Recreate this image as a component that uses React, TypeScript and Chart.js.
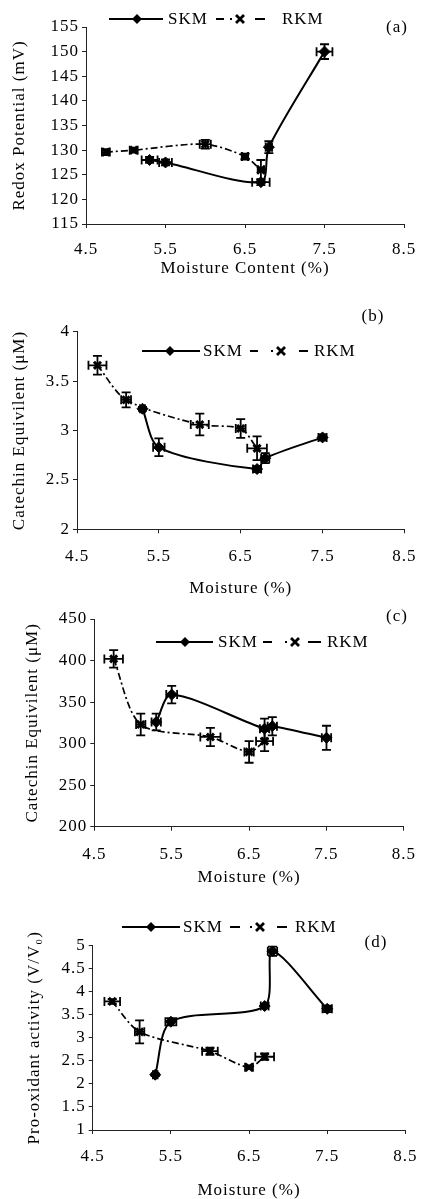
import React, { useEffect, useRef } from 'react';
import { Chart, registerables } from 'chart.js';

Chart.register(...registerables);

// ---------------- data ----------------
const X_TICKS = [4.5, 5.5, 6.5, 7.5, 8.5];
const SKM_MOISTURE = [5.3, 5.5, 6.7, 6.8, 7.5];
const RKM_MOISTURE = [4.75, 5.1, 6.0, 6.5, 6.7];

// (a) Redox potential (mV)
const REDOX_TICKS = [115, 120, 125, 130, 135, 140, 145, 150, 155];
const REDOX_SKM = [128, 127.5, 123.5, 130.6, 150];
const REDOX_SKM_XERR = [0.1, 0.08, 0.11, 0.04, 0.1];
const REDOX_SKM_YERR = [0.6, 0.6, 0.6, 1.2, 1.5];
const REDOX_RKM = [129.6, 130, 131.2, 128.7, 126];
const REDOX_RKM_XERR = [0.05, 0.05, 0.07, 0.04, 0.04];
const REDOX_RKM_YERR = [0.6, 0.5, 0.9, 0.6, 2.0];

// (b) Catechin equivalent (uM)
const CATB_TICKS = [2, 2.5, 3, 3.5, 4];
const CATB_SKM = [3.22, 2.83, 2.61, 2.72, 2.93];
const CATB_SKM_XERR = [0.03, 0.07, 0.05, 0.05, 0.05];
const CATB_SKM_YERR = [0.02, 0.09, 0.03, 0.05, 0.03];
const CATB_RKM = [3.66, 3.31, 3.06, 3.02, 2.82];
const CATB_RKM_XERR = [0.11, 0.06, 0.11, 0.06, 0.12];
const CATB_RKM_YERR = [0.095, 0.075, 0.11, 0.095, 0.12];

// (c) Catechin equivalent (uM)
const CATC_TICKS = [200, 250, 300, 350, 400, 450];
const CATC_SKM = [326, 359, 318, 321, 307];
const CATC_SKM_XERR = [0.06, 0.07, 0.06, 0.06, 0.06];
const CATC_SKM_YERR = [10, 10.5, 12, 11, 14.5];
const CATC_RKM = [402, 323, 308, 290, 303];
const CATC_RKM_XERR = [0.12, 0.06, 0.13, 0.06, 0.11];
const CATC_RKM_YERR = [10.5, 13, 11, 13, 12];

// (d) Pro-oxidant activity (V/V0)
const PRO_TICKS = [1, 1.5, 2, 2.5, 3, 3.5, 4, 4.5, 5];
const PRO_SKM = [2.2, 3.35, 3.69, 4.88, 3.63];
const PRO_SKM_XERR = [0.03, 0.07, 0.05, 0.06, 0.06];
const PRO_SKM_YERR = [0.03, 0.08, 0.04, 0.1, 0.07];
const PRO_RKM = [3.79, 3.13, 2.71, 2.36, 2.59];
const PRO_RKM_XERR = [0.1, 0.06, 0.1, 0.05, 0.12];
const PRO_RKM_YERR = [0.05, 0.25, 0.08, 0.04, 0.07];

const SKM_LABEL = 'SKM';
const RKM_LABEL = 'RKM';

// ---------------- styling / layout ----------------
const FONT = '"Liberation Serif", "Times New Roman", serif';
const FONT_SIZE = 17;
const LETTER_SPACING = '1px';
const INK = '#000';
const AXIS = '#222';
const RKM_DASH = [7, 3, 2, 3];
const TENSION = 0.28;

type Panel = {
  tag: string;
  top: number;
  h: number;
  area: { left: number; top: number; right: number; bottom: number };
  yTicks: number[];
  yTitle: string;
  xTitle: string;
  skm: number[]; skmX: number[]; skmY: number[];
  rkm: number[]; rkmX: number[]; rkmY: number[];
  yTitlePad: number;
  xTickPad: number;
  xTitlePad: number;
  legend: { y: number; line: [number, number]; diamond: number; skmX: number; dash1: [number, number]; cross: number; dash2: [number, number]; rkmX: number };
  tagPos: { x: number; y: number };
};

const PANELS: Panel[] = [
  {
    tag: '(a)', top: 0, h: 290,
    area: { left: 86, top: 27, right: 404, bottom: 224 },
    yTicks: REDOX_TICKS, yTitle: 'Redox Potential (mV)', xTitle: 'Moisture Content (%)',
    skm: REDOX_SKM, skmX: REDOX_SKM_XERR, skmY: REDOX_SKM_YERR,
    rkm: REDOX_RKM, rkmX: REDOX_RKM_XERR, rkmY: REDOX_RKM_YERR,
    yTitlePad: 11, xTickPad: 11, xTitlePad: 12.5,
    legend: { y: 19, line: [109, 163], diamond: 137, skmX: 168, dash1: [216, 224], cross: 240, dash2: [255, 265], rkmX: 282 },
    tagPos: { x: 397, y: 28 },
  },
  {
    tag: '(b)', top: 290, h: 310,
    area: { left: 77, top: 41.7, right: 409, bottom: 239.3 },
    yTicks: CATB_TICKS, yTitle: 'Catechin Equivilent (\u03bcM)', xTitle: 'Moisture (%)',
    skm: CATB_SKM, skmX: CATB_SKM_XERR, skmY: CATB_SKM_YERR,
    rkm: CATB_RKM, rkmX: CATB_RKM_XERR, rkmY: CATB_RKM_YERR,
    yTitlePad: 11, xTickPad: 13.5, xTitlePad: 2.5,
    legend: { y: 61, line: [142, 200], diamond: 170, skmX: 203, dash1: [250, 258], cross: 281, dash2: [299, 308], rkmX: 314 },
    tagPos: { x: 373, y: 27 },
  },
  {
    tag: '(c)', top: 590, h: 300,
    area: { left: 94.3, top: 29, right: 416.7, bottom: 236.7 },
    yTicks: CATC_TICKS, yTitle: 'Catechin Equivilent (\u03bcM)', xTitle: 'Moisture (%)',
    skm: CATC_SKM, skmX: CATC_SKM_XERR, skmY: CATC_SKM_YERR,
    rkm: CATC_RKM, rkmX: CATC_RKM_XERR, rkmY: CATC_RKM_YERR,
    yTitlePad: 24.5, xTickPad: 14, xTitlePad: 3.5,
    legend: { y: 52, line: [156, 213], diamond: 185, skmX: 218, dash1: [263, 272], cross: 295, dash2: [308, 321], rkmX: 327 },
    tagPos: { x: 397, y: 27 },
  },
  {
    tag: '(d)', top: 880, h: 319,
    area: { left: 92.7, top: 65.7, right: 405.7, bottom: 250 },
    yTicks: PRO_TICKS, yTitle: 'Pro-oxidant activity (V/V\u2080)', xTitle: 'Moisture (%)',
    skm: PRO_SKM, skmX: PRO_SKM_XERR, skmY: PRO_SKM_YERR,
    rkm: PRO_RKM, rkmX: PRO_RKM_XERR, rkmY: PRO_RKM_YERR,
    yTitlePad: 26, xTickPad: 12.5, xTitlePad: 0,
    legend: { y: 47, line: [122, 180], diamond: 151, skmX: 183, dash1: [230, 240], cross: 260, dash2: [277, 287], rkmX: 295 },
    tagPos: { x: 376, y: 63 },
  },
];

// ---------------- plugins ----------------
const spacingPlugin = {
  id: 'letterSpacing',
  beforeLayout(chart: any) { (chart.ctx as any).letterSpacing = LETTER_SPACING; },
  beforeDraw(chart: any) { (chart.ctx as any).letterSpacing = LETTER_SPACING; },
};

const errorBarPlugin = {
  id: 'errorBars',
  afterDatasetsDraw(chart: any) {
    const { ctx } = chart;
    const xs = chart.scales.x;
    const ys = chart.scales.y;
    const cap = 4.5;
    ctx.save();
    ctx.strokeStyle = INK;
    ctx.lineWidth = 1.8;
    ctx.setLineDash([]);
    chart.data.datasets.forEach((ds: any) => {
      const eb = ds.errorBars;
      if (!eb) return;
      ds.data.forEach((p: any, j: number) => {
        const px = xs.getPixelForValue(p.x);
        const py = ys.getPixelForValue(p.y);
        const x1 = xs.getPixelForValue(p.x - eb.x[j]);
        const x2 = xs.getPixelForValue(p.x + eb.x[j]);
        const y1 = ys.getPixelForValue(p.y - eb.y[j]);
        const y2 = ys.getPixelForValue(p.y + eb.y[j]);
        ctx.beginPath();
        ctx.moveTo(x1, py); ctx.lineTo(x2, py);
        ctx.moveTo(x1, py - cap); ctx.lineTo(x1, py + cap);
        ctx.moveTo(x2, py - cap); ctx.lineTo(x2, py + cap);
        ctx.moveTo(px, y1); ctx.lineTo(px, y2);
        ctx.moveTo(px - cap, y1); ctx.lineTo(px + cap, y1);
        ctx.moveTo(px - cap, y2); ctx.lineTo(px + cap, y2);
        ctx.stroke();
      });
    });
    ctx.restore();
  },
};

function drawCross(ctx: CanvasRenderingContext2D, x: number, y: number, r: number) {
  ctx.beginPath();
  ctx.moveTo(x - r, y - r); ctx.lineTo(x + r, y + r);
  ctx.moveTo(x - r, y + r); ctx.lineTo(x + r, y - r);
  ctx.stroke();
}

function makeDecorPlugin(panel: Panel) {
  return {
    id: 'decor',
    afterDraw(chart: any) {
      const ctx: CanvasRenderingContext2D = chart.ctx;
      const L = panel.legend;
      ctx.save();
      (ctx as any).letterSpacing = LETTER_SPACING;
      ctx.strokeStyle = INK;
      ctx.fillStyle = INK;
      ctx.setLineDash([]);
      // SKM entry
      ctx.lineWidth = 1.8;
      ctx.beginPath();
      ctx.moveTo(L.line[0], L.y); ctx.lineTo(L.line[1], L.y);
      ctx.stroke();
      ctx.beginPath();
      const d = 5;
      ctx.moveTo(L.diamond, L.y - d); ctx.lineTo(L.diamond + d, L.y);
      ctx.lineTo(L.diamond, L.y + d); ctx.lineTo(L.diamond - d, L.y);
      ctx.closePath(); ctx.fill();
      // RKM entry
      ctx.lineWidth = 1.8;
      ctx.beginPath();
      ctx.moveTo(L.dash1[0], L.y); ctx.lineTo(L.dash1[1], L.y);
      ctx.moveTo(L.dash2[0], L.y); ctx.lineTo(L.dash2[1], L.y);
      ctx.stroke();
      ctx.fillRect(L.cross - 10, L.y - 1, 2, 2);
      ctx.lineWidth = 2.8;
      drawCross(ctx, L.cross, L.y, 4);
      // texts
      ctx.font = `${FONT_SIZE}px ${FONT}`;
      ctx.textBaseline = 'middle';
      ctx.textAlign = 'left';
      ctx.fillText(SKM_LABEL, L.skmX, L.y + 1);
      ctx.fillText(RKM_LABEL, L.rkmX, L.y + 1);
      ctx.textAlign = 'center';
      ctx.fillText(panel.tag, panel.tagPos.x, panel.tagPos.y);
      ctx.restore();
    },
  };
}

function buildConfig(panel: Panel): any {
  const skmData = SKM_MOISTURE.map((x, i) => ({ x, y: panel.skm[i] }));
  const rkmData = RKM_MOISTURE.map((x, i) => ({ x, y: panel.rkm[i] }));
  const yMin = panel.yTicks[0];
  const yMax = panel.yTicks[panel.yTicks.length - 1];
  return {
    type: 'scatter',
    data: {
      datasets: [
        {
          label: RKM_LABEL,
          data: rkmData,
          showLine: true,
          tension: TENSION,
          borderColor: INK,
          borderWidth: 1.7,
          borderDash: RKM_DASH,
          pointStyle: 'crossRot',
          pointRadius: 5,
          pointBorderWidth: 3,
          pointBorderColor: INK,
          pointBackgroundColor: INK,
          errorBars: { x: panel.rkmX, y: panel.rkmY },
        },
        {
          label: SKM_LABEL,
          data: skmData,
          showLine: true,
          tension: TENSION,
          borderColor: INK,
          borderWidth: 2,
          pointStyle: 'rectRot',
          pointRadius: 5.5,
          pointBorderWidth: 1,
          pointBorderColor: INK,
          pointBackgroundColor: INK,
          errorBars: { x: panel.skmX, y: panel.skmY },
        },
      ],
    },
    options: {
      animation: false,
      responsive: true,
      maintainAspectRatio: false,
      layout: {
        padding: { left: 0, top: panel.area.top, right: 430 - panel.area.right, bottom: 0 },
      },
      plugins: {
        legend: { display: false },
        tooltip: { enabled: false },
      },
      scales: {
        x: {
          type: 'linear',
          min: X_TICKS[0],
          max: X_TICKS[X_TICKS.length - 1],
          afterBuildTicks: (s: any) => { s.ticks = X_TICKS.map((v) => ({ value: v })); },
          afterFit: (s: any) => { s.height = panel.h - panel.area.bottom; },
          grid: { display: true, drawOnChartArea: false, drawTicks: true, tickLength: 4, color: AXIS, lineWidth: 1 },
          border: { display: true, color: AXIS, width: 1 },
          ticks: {
            color: INK, padding: panel.xTickPad, autoSkip: false, maxRotation: 0,
            font: { family: FONT, size: FONT_SIZE },
            callback: (v: any) => String(v),
          },
          title: {
            display: true, text: panel.xTitle, color: INK,
            font: { family: FONT, size: FONT_SIZE, lineHeight: 1 },
            padding: { top: 0, bottom: panel.xTitlePad },
          },
        },
        y: {
          type: 'linear',
          min: yMin,
          max: yMax,
          afterBuildTicks: (s: any) => { s.ticks = panel.yTicks.map((v) => ({ value: v })); },
          afterFit: (s: any) => { s.width = panel.area.left; },
          grid: { display: true, drawOnChartArea: false, drawTicks: true, tickLength: 4, color: AXIS, lineWidth: 1 },
          border: { display: true, color: AXIS, width: 1 },
          ticks: {
            color: INK, padding: 3, autoSkip: false,
            font: { family: FONT, size: FONT_SIZE },
            callback: (v: any) => String(v),
          },
          title: {
            display: true, text: panel.yTitle, color: INK,
            font: { family: FONT, size: FONT_SIZE, lineHeight: 1 },
            padding: { top: panel.yTitlePad, bottom: 0 },
          },
        },
      },
    },
    plugins: [spacingPlugin, errorBarPlugin, makeDecorPlugin(panel)],
  };
}

function PanelChart({ panel }: { panel: Panel }) {
  const ref = useRef<HTMLCanvasElement | null>(null);
  useEffect(() => {
    if (!ref.current) return;
    const chart = new Chart(ref.current, buildConfig(panel));
    return () => chart.destroy();
  }, [panel]);
  return (
    <div style={{ position: 'absolute', left: 0, top: panel.top, width: 430, height: panel.h }}>
      <canvas ref={ref} />
    </div>
  );
}

export default function App() {
  return (
    <div style={{ position: 'absolute', left: 0, top: 0, width: 430, height: 1199, background: '#fff', overflow: 'hidden' }}>
      {PANELS.map((p) => (
        <PanelChart key={p.tag} panel={p} />
      ))}
    </div>
  );
}
